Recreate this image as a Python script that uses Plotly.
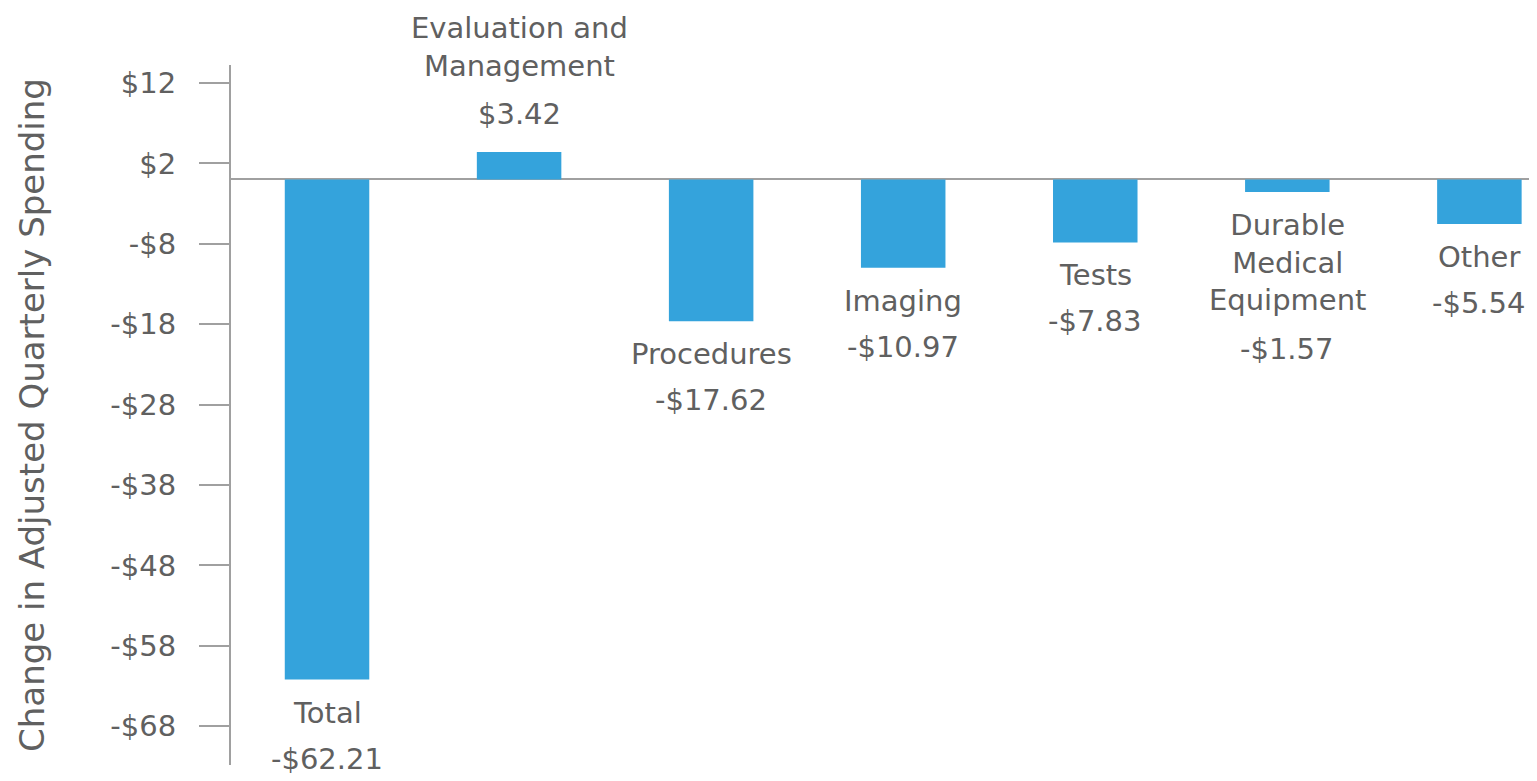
import plotly.graph_objects as go

categories = ["Total", "Evaluation and<br>Management", "Procedures", "Imaging", "Tests",
              "Durable<br>Medical<br>Equipment", "Other"]
values = [-62.21, 3.42, -17.62, -10.97, -7.83, -1.57, -5.54]
value_labels = ["-$62.21", "$3.42", "-$17.62", "-$10.97", "-$7.83", "-$1.57", "-$5.54"]
tick_vals = [12, 2, -8, -18, -28, -38, -48, -58, -68]
tick_text = ["$12", "$2", "-$8", "-$18", "-$28", "-$38", "-$48", "-$58", "-$68"]

BAR = "#34a3dc"
GREY = "#a0a0a0"
TXT = "#606060"
FONT = "DejaVu Sans"
LABEL_SIZE = 29

fig = go.Figure(go.Bar(x=categories, y=values, marker_color=BAR, marker_line_width=0))

for cat, v, lab in zip(categories, values, value_labels):
    n_lines = cat.count("<br>") + 1
    lf = dict(size=LABEL_SIZE, color=TXT, family=FONT)
    if v >= 0:
        # name and value stacked above the bar
        fig.add_annotation(x=cat, y=v, text=lab, showarrow=False, yanchor="bottom",
                           yshift=19, font=lf)
        fig.add_annotation(x=cat, y=v, text=cat, showarrow=False, yanchor="bottom",
                           yshift=67, font=lf)
    else:
        fig.add_annotation(x=cat, y=v, text=cat, showarrow=False, yanchor="top",
                           yshift=-14, font=lf)
        fig.add_annotation(x=cat, y=v, text=lab, showarrow=False, yanchor="top",
                           yshift=-(60 + 39 * (n_lines - 1)), font=lf)

fig.update_layout(
    width=1529, height=773,
    margin=dict(l=223, r=0, t=57, b=16),
    paper_bgcolor="white", plot_bgcolor="white",
    showlegend=False,
    bargap=0.56,
    font=dict(family=FONT, color=TXT),
)
fig.update_xaxes(range=[-0.5, 6.3], showticklabels=False, showgrid=False, zeroline=False,
                 showline=False, ticks="")
fig.update_yaxes(
    range=[-72.83, 14.24], tickvals=tick_vals, ticktext=tick_text,
    showgrid=False, zeroline=True, zerolinecolor=GREY, zerolinewidth=2,
    showline=True, linecolor=GREY, linewidth=2,
    ticks="outside", ticklen=30, tickwidth=2, tickcolor=GREY,
    tickfont=dict(size=29, color=TXT), ticklabelstandoff=17,
    title=dict(text="Change in Adjusted Quarterly Spending", font=dict(size=34, color=TXT),
               standoff=55),
    automargin=False,
)

fig.write_html("out.html")
